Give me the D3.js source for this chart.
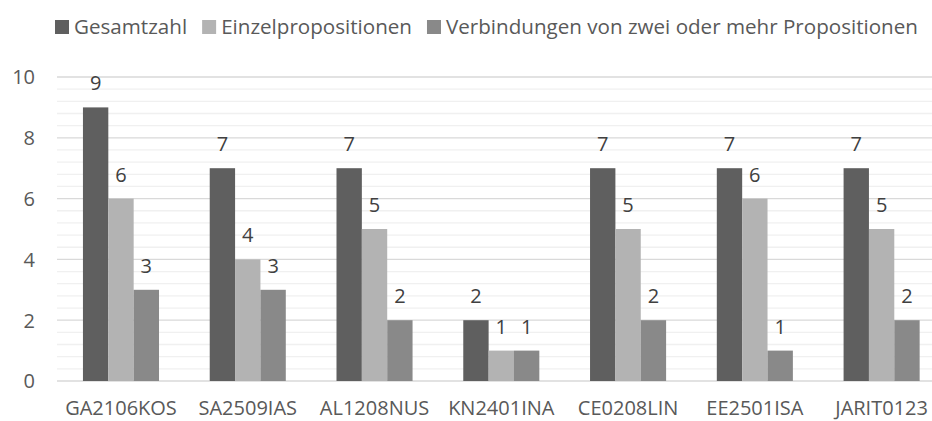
<!DOCTYPE html>
<html>
<head>
<meta charset="utf-8">
<script src="https://cdn.jsdelivr.net/npm/d3@7/dist/d3.min.js"></script>
<style>
  html, body { margin: 0; padding: 0; background: #ffffff; overflow: hidden; }
  svg { display: block; font-family: "Open Sans", sans-serif; }
</style>
</head>
<body>
<svg id="chart" width="932" height="421"></svg>
<script>
// Texts and their counts of propositions
const categories = ["GA2106KOS", "SA2509IAS", "AL1208NUS", "KN2401INA", "CE0208LIN", "EE2501ISA", "JARIT0123"];
const seriesNames = ["Gesamtzahl", "Einzelpropositionen", "Verbindungen von zwei oder mehr Propositionen"];
const gesamtzahl = [9, 7, 7, 2, 7, 7, 7];
const einzel = [6, 4, 5, 1, 5, 6, 5];
const verbindungen = [3, 3, 2, 1, 2, 1, 2];
const yTicks = [0, 2, 4, 6, 8, 10];
const colors = ["#5f5f5f", "#b3b3b3", "#898989"];

const seriesValues = [gesamtzahl, einzel, verbindungen];

const svg = d3.select("#chart");

const x = d3.scaleBand()
  .domain(categories)
  .range([57.6, 945])
  .paddingInner(0.4)
  .paddingOuter(0.2);

const xs = d3.scaleBand()
  .domain(seriesNames)
  .range([0, x.bandwidth()])
  .padding(0);

const y = d3.scaleLinear().domain([0, 10]).range([381, 77]);

// Minor and major gridlines
const gridX1 = 57, gridX2 = 945;
const minorTicks = d3.range(0, 10.001, 0.4).filter(v => Math.abs(v / 2 - Math.round(v / 2)) > 1e-6);
svg.append("g").selectAll("line").data(minorTicks).join("line")
  .attr("x1", gridX1).attr("x2", gridX2)
  .attr("y1", d => y(d)).attr("y2", d => y(d))
  .attr("stroke", "#f0f0f0").attr("stroke-width", 1.3);

svg.append("g").selectAll("line").data(yTicks).join("line")
  .attr("x1", gridX1).attr("x2", gridX2)
  .attr("y1", d => y(d)).attr("y2", d => y(d))
  .attr("stroke", "#d9d9d9").attr("stroke-width", 1.3);

// Y axis labels
const yAxis = d3.axisLeft(y).tickValues(yTicks).tickSize(0).tickPadding(0);
const yg = svg.append("g").attr("transform", "translate(35,0)").call(yAxis);
yg.select(".domain").remove();
yg.selectAll("text").attr("font-size", 20).attr("fill", "#595959")
  .attr("font-family", "Open Sans, sans-serif").attr("dy", "0.34em");

// Bars
const groups = svg.append("g").selectAll("g").data(categories).join("g")
  .attr("transform", d => `translate(${x(d)},0)`);

const cells = groups.selectAll("g.cell")
  .data((c, i) => seriesNames.map((s, k) => ({ s, k, v: seriesValues[k][i] })))
  .join("g").attr("class", "cell");

cells.append("rect")
  .attr("x", d => xs(d.s))
  .attr("width", xs.bandwidth())
  .attr("y", d => y(d.v))
  .attr("height", d => y(0) - y(d.v))
  .attr("fill", d => colors[d.k]);

cells.append("text")
  .attr("x", d => xs(d.s) + xs.bandwidth() / 2)
  .attr("y", d => y(d.v) - 17)
  .attr("text-anchor", "middle")
  .attr("font-size", 20)
  .attr("fill", "#404040")
  .text(d => d.v);

// X axis labels
const xAxis = d3.axisBottom(x).tickSize(0).tickPadding(0);
const xg = svg.append("g").attr("transform", "translate(0,415)").call(xAxis);
xg.select(".domain").remove();
xg.selectAll("text").attr("font-size", 20).attr("fill", "#595959")
  .attr("font-family", "Open Sans, sans-serif").attr("dy", 0);

// Legend
const legend = svg.append("g");
let lx = 55;
seriesNames.forEach((name, k) => {
  legend.append("rect")
    .attr("x", lx).attr("y", 20).attr("width", 14).attr("height", 14)
    .attr("fill", colors[k]);
  const t = legend.append("text")
    .attr("x", lx + 19).attr("y", 34)
    .attr("font-size", 20.6)
    .attr("fill", "#595959")
    .text(name);
  lx += 19 + t.node().getComputedTextLength() + 15;
});
</script>
</body>
</html>
